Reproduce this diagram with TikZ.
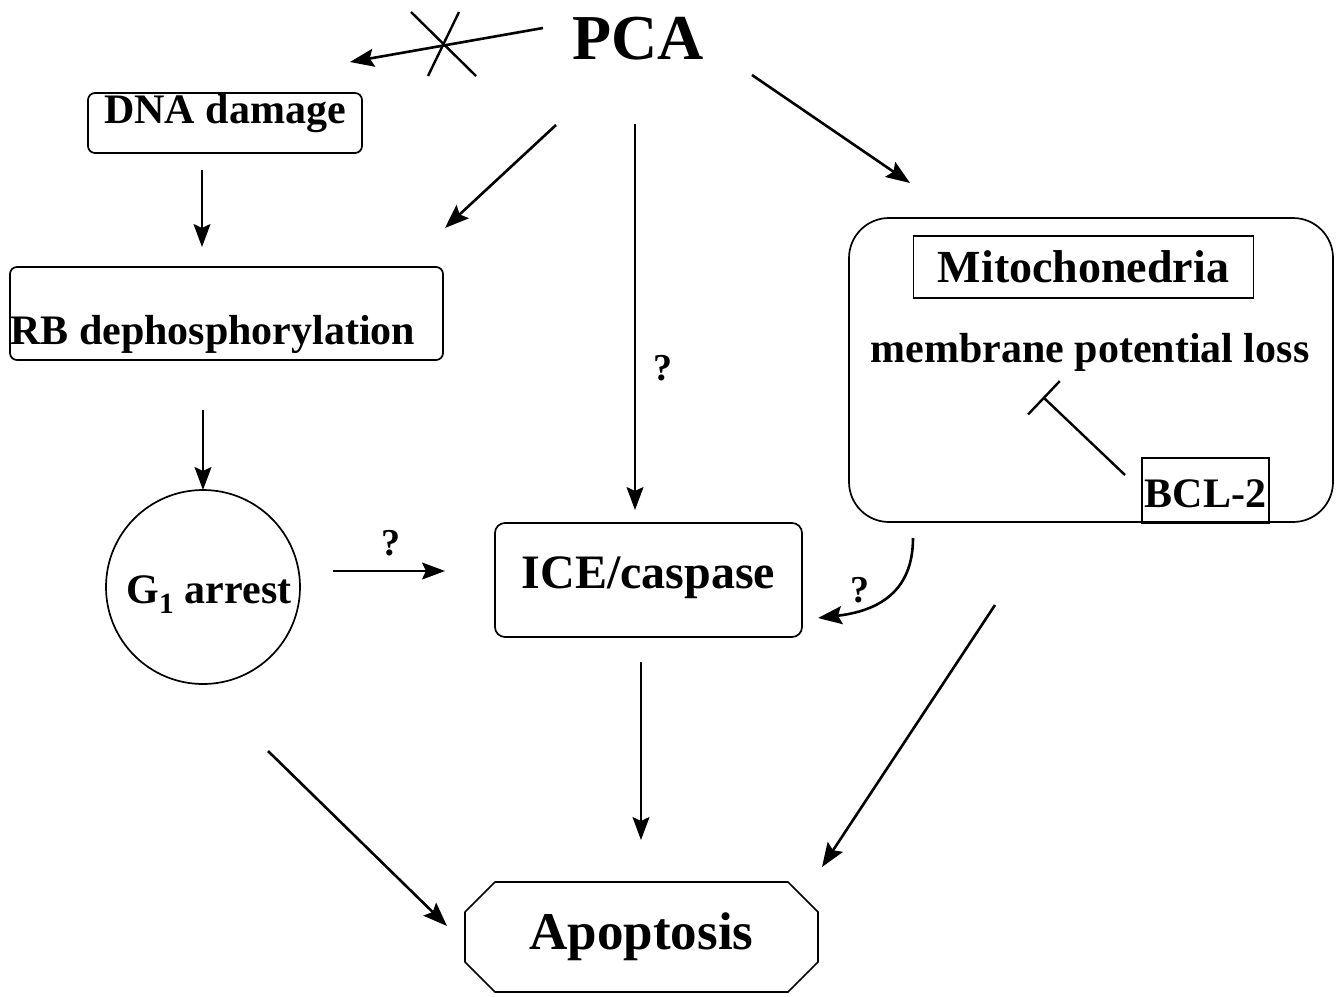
\documentclass[tikz,border=0pt]{standalone}
\usepackage{fontspec}
\setmainfont{Liberation Serif}
\usetikzlibrary{arrows.meta,calc}
\begin{document}
\begin{tikzpicture}[x=1pt,y=-1pt,
  arr/.style={line width=2.6pt,-{Stealth[length=24pt,width=18pt,inset=4pt]}},
  thinarr/.style={line width=1.8pt,-{Stealth[length=23pt,width=17pt,inset=4pt]}},
  boxst/.style={draw,line width=1.7pt,rounded corners=7pt,inner sep=0pt},
  sqbox/.style={draw,line width=1.7pt,inner sep=0pt},
  qmark/.style={font=\bfseries\fontsize{38}{38}\selectfont},
  f42/.style={font=\bfseries\fontsize{42}{42}\selectfont},
  f46/.style={font=\bfseries\fontsize{46}{46}\selectfont},
  f48/.style={font=\bfseries\fontsize{48}{48}\selectfont},
  f53/.style={font=\bfseries\fontsize{53}{53}\selectfont}
]
\useasboundingbox[fill=white] (0,0) rectangle (1343,996);

% nodes
\node[anchor=base,font=\bfseries\fontsize{64}{64}\selectfont] (pca) at (638,59) {PCA};
\node[boxst,f42,anchor=base,minimum width=274pt,text height=30pt,text depth=30pt] (dna) at (225,123) {DNA damage};
\node[boxst,anchor=base,minimum width=433pt,text height=77pt,text depth=16pt] (rb) at (226.5,344) {};
\node[f42,anchor=base west,inner sep=0pt] (rbt) at (10,344) {RB dephosphorylation};
\node[draw,circle,line width=1.7pt,minimum size=194pt,inner sep=0pt] (g1) at (203,587) {};
\node[f42,anchor=base] (g1t) at (209,603) {G\textsubscript{1} arrest};
\node[boxst,f48,anchor=base,rounded corners=10pt,minimum width=307pt,text height=65pt,text depth=49pt] (ice) at (648.5,588) {ICE/caspase};
\node[draw,line width=1.7pt,rounded corners=40pt,minimum width=484pt,minimum height=304pt,inner sep=0pt] (mito) at (1091,370) {};
\node[sqbox,f46,anchor=base,minimum width=340pt,text height=46pt,text depth=16pt] (mitot) at (1083.5,282) {Mitochonedria};
\node[f42,anchor=base] (mpl) at (1090,362) {membrane potential loss};
\node[sqbox,f42,anchor=base,minimum width=127pt,text height=49pt,text depth=16pt] (bcl) at (1205.5,507) {BCL-2};
\node[inner sep=0pt,outer sep=0pt,minimum width=353pt,minimum height=110pt,f53] (apop) at (641.5,937) {Apoptosis};
\draw[line width=1.7pt,line join=round]
  ($(apop.north west)+(30,0)$) -- ($(apop.north east)+(-30,0)$) --
  ($(apop.north east)+(0,30)$) -- ($(apop.south east)+(0,-30)$) --
  ($(apop.south east)+(-30,0)$) -- ($(apop.south west)+(30,0)$) --
  ($(apop.south west)+(0,-30)$) -- ($(apop.north west)+(0,30)$) -- cycle;

% question marks
\node[qmark] (q1) at (391,543) {?};
\node[qmark] (q2) at (663,368) {?};
\node[qmark] (q3) at (860,590) {?};

% connector end points
\coordinate (a1s) at (543,28);  \coordinate (a1e) at (350,62);
\coordinate (xa) at (411,12);   \coordinate (xb) at (476,76);
\coordinate (xc) at (459,12);   \coordinate (xd) at (428,76);
\coordinate (a2s) at (556,125); \coordinate (a2e) at (445,228);
\coordinate (a3s) at (635,124); \coordinate (a3e) at (635,510);
\coordinate (a4s) at (752,75);  \coordinate (a4e) at (910,183);
\coordinate (a5s) at (202,170); \coordinate (a5e) at (202,247);
\coordinate (a6s) at (203,410); \coordinate (a6e) at (203,490);
\coordinate (a7s) at (333,571); \coordinate (a7e) at (445,571);
\coordinate (a8s) at (913,538); \coordinate (a8e) at (818,618);
\coordinate (a9s) at (641,662); \coordinate (a9e) at (641,840);
\coordinate (a10s) at (268,751); \coordinate (a10e) at (447,926);
\coordinate (a11s) at (995,605); \coordinate (a11e) at (822,867);
\coordinate (ts) at (1125,475);  \coordinate (te) at (1043,397);

% connectors
\draw[arr] (a1s) -- (a1e);
\draw[line width=2.4pt] (xa) -- (xb);
\draw[line width=2.4pt] (xc) -- (xd);
\draw[arr] (a2s) -- (a2e);
\draw[thinarr] (a3s) -- (a3e);
\draw[arr] (a4s) -- (a4e);
\draw[thinarr] (a5s) -- (a5e);
\draw[thinarr] (a6s) -- (a6e);
\draw[thinarr] (a7s) -- (a7e);
\draw[arr] (a8s) .. controls (913,592) and (878,611) .. (a8e);
\draw[thinarr] (a9s) -- (a9e);
\draw[arr] (a10s) -- (a10e);
\draw[arr] (a11s) -- (a11e);
\draw[line width=2.4pt,-{Bar[width=46pt]}] (ts) -- (te);
\end{tikzpicture}
\end{document}
